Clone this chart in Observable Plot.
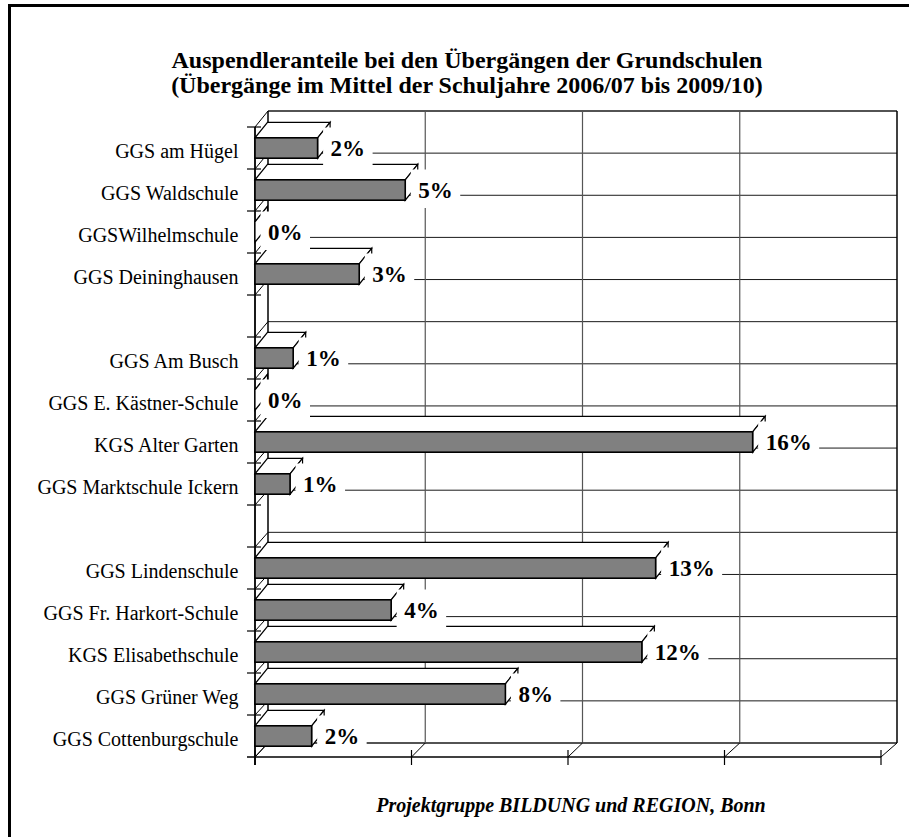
<!DOCTYPE html>
<html>
<head>
<meta charset="utf-8">
<script src="https://cdn.jsdelivr.net/npm/d3@7"></script>
<script src="https://cdn.jsdelivr.net/npm/@observablehq/plot@0.6"></script>
<style>
  body { margin: 0; background: #fff; }
  #wrap { position: relative; width: 909px; height: 837px; overflow: hidden; font-family: "Liberation Serif", "Times New Roman", serif; background: #fff; }
  #frame { position: absolute; left: 8px; top: 4px; width: 1000px; height: 1000px; border-left: 3px solid #000; border-top: 3px solid #000; }
  #chart { position: absolute; left: 0; top: 0; }
  #title { position: absolute; left: 0; top: 48px; width: 934px; text-align: center; font-weight: bold; font-size: 24px; line-height: 25px; color: #000; }
  #caption { position: absolute; left: 0; top: 793px; width: 1142px; text-align: center; font-weight: bold; font-style: italic; font-size: 20px; line-height: 24px; color: #000; }
</style>
</head>
<body>
<div id="wrap">
  <div id="frame"></div>
  <div id="chart"></div>
  <div id="title">Auspendleranteile bei den Übergängen der Grundschulen<br>(Übergänge im Mittel der Schuljahre 2006/07 bis 2009/10)</div>
  <div id="caption">Projektgruppe BILDUNG und REGION, Bonn</div>
</div>
<script>
// ---- data ----
const schools = [
  "GGS am Hügel", "GGS Waldschule", "GGSWilhelmschule", "GGS Deininghausen", "",
  "GGS Am Busch", "GGS E. Kästner-Schule", "KGS Alter Garten", "GGS Marktschule Ickern", "",
  "GGS Lindenschule", "GGS Fr. Harkort-Schule", "KGS Elisabethschule", "GGS Grüner Weg", "GGS Cottenburgschule"
];
const shares = [2.0, 4.8, 0, 3.33, null, 1.22, 0, 15.9, 1.12, null, 12.8, 4.35, 12.36, 8.0, 1.81];
const xTicks = [0, 5, 10, 15, 20];

const rows = schools.map((name, i) => ({i, name, v: shares[i]}));
const bars = rows.filter(d => d.v != null);
const named = rows.filter(d => d.name !== "");

// depth geometry (pixel offsets of the 3D look)
const BAR_DX = 12.5, BAR_DY = -15.5, INSET = 10.8;

function bandInfo(sy) {
  const bw = typeof sy.bandwidth === "function" ? sy.bandwidth() : (sy(1) - sy(0));
  return bw;
}
function makeBack(sx, sy) {
  const X0 = sx(0), X1 = sx(xTicks[xTicks.length - 1]);
  const bw = bandInfo(sy);
  const T = sy(0), B = sy(schools.length - 1) + bw;
  return {
    X0, X1, T, B, bw,
    bx: px => px + 13 + 3 * (px - X0) / (X1 - X0),
    by: py => py - 16 + 2 * (py - T) / (B - T)
  };
}

// walls, floor and gridlines
function wallsMark(index, scales) {
  const sx = scales.x, sy = scales.y;
  const {X0, X1, T, B, bw, bx, by} = makeBack(sx, sy);
  const g = d3.create("svg:g").attr("fill", "none").attr("stroke", "#000");
  const ln = (x1, y1, x2, y2, w = 1, c = "#000") =>
    g.append("line").attr("x1", x1).attr("y1", y1).attr("x2", x2).attr("y2", y2)
      .attr("stroke-width", w).attr("stroke", c);
  const bounds = d3.range(schools.length + 1).map(k => T + k * bw);
  // back wall horizontal gridlines
  bounds.forEach((b, k) => ln(bx(X0), by(b), bx(X1), by(b), (k === 0 || k === bounds.length - 1) ? 1.5 : 1, "#1a1a1a"));
  // back wall vertical gridlines
  xTicks.forEach((t, k) => ln(bx(sx(t)), by(T), bx(sx(t)), by(B), (k === 0 || k === xTicks.length - 1) ? 1.5 : 1.2, k === 0 || k === xTicks.length - 1 ? "#000" : "#555"));
  // left wall diagonals and ticks
  bounds.forEach((b, k) => {
    ln(X0, b, bx(X0), by(b), 1);
    if (k < bounds.length - 1) ln(X0 - 8, b, X0 + 6, b, 1.2);
  });
  // front vertical axis
  ln(X0, T, X0, B + 8, 1.8);
  // floor
  ln(X0 - 8, B, X1, B, 1.5);
  xTicks.forEach(t => {
    ln(sx(t), B, bx(sx(t)), by(B), 1);
    ln(sx(t), B - 7, sx(t), B + 8, 1.2);
  });
  return g.node();
}

// top and right faces of the 3D bars
function facesMark(index, scales) {
  const sx = scales.x, sy = scales.y;
  const bw = bandInfo(sy);
  const g = d3.create("svg:g").attr("fill", "#fff").attr("stroke", "#000").attr("stroke-width", 1.2).attr("stroke-linejoin", "miter");
  bars.forEach(d => {
    const x0 = sx(0), x1 = sx(d.v);
    const yt = sy(d.i) + INSET, yb = sy(d.i) + bw - INSET;
    g.append("polygon").attr("points", [[x0, yt], [x1, yt], [x1 + BAR_DX, yt + BAR_DY], [x0 + BAR_DX, yt + BAR_DY]].join(" "));
    g.append("polygon").attr("points", [[x1, yt], [x1 + BAR_DX, yt + BAR_DY], [x1 + BAR_DX, yb + BAR_DY], [x1, yb]].join(" "));
  });
  return g.node();
}

// white boxes behind the value labels
const ctx = document.createElement("canvas").getContext("2d");
ctx.font = "bold 23px 'Liberation Serif'";
const fmt = v => Math.round(v) + "%";
function boxesMark(index, scales) {
  const sx = scales.x, sy = scales.y;
  const bw = bandInfo(sy);
  const g = d3.create("svg:g").attr("fill", "#fff").attr("stroke", "none");
  bars.forEach(d => {
    const tx = sx(d.v) + BAR_DX;
    const w = ctx.measureText(fmt(d.v)).width;
    const cy = sy(d.i) + bw / 2;
    g.append("rect").attr("x", tx - 7).attr("y", cy - 20.5).attr("width", w + 15).attr("height", 38.5);
  });
  return g.node();
}

const chart = Plot.plot({
  width: 909,
  height: 837,
  marginLeft: 255,
  marginRight: 28,
  marginTop: 122,
  marginBottom: 75,
  style: {background: "none", fontFamily: "'Liberation Serif', 'Times New Roman', serif", color: "#000"},
  x: {domain: [0, 20], axis: null},
  y: {type: "band", domain: d3.range(schools.length), padding: 0, axis: null},
  marks: [
    wallsMark,
    facesMark,
    Plot.barX(bars, {x: "v", y: "i", fill: "#808080", stroke: "#000", strokeWidth: 1.6, insetTop: INSET, insetBottom: INSET}),
    boxesMark,
    Plot.text(bars, {x: "v", y: "i", text: d => fmt(d.v), dx: BAR_DX, textAnchor: "start", fontSize: 23, fontWeight: "bold", fill: "#000"}),
    Plot.text(named, {x: d => 0, y: "i", text: "name", textAnchor: "end", dx: -17, dy: 3, fontSize: 20, fill: "#000"})
  ]
});
document.getElementById("chart").appendChild(chart);
</script>
</body>
</html>
